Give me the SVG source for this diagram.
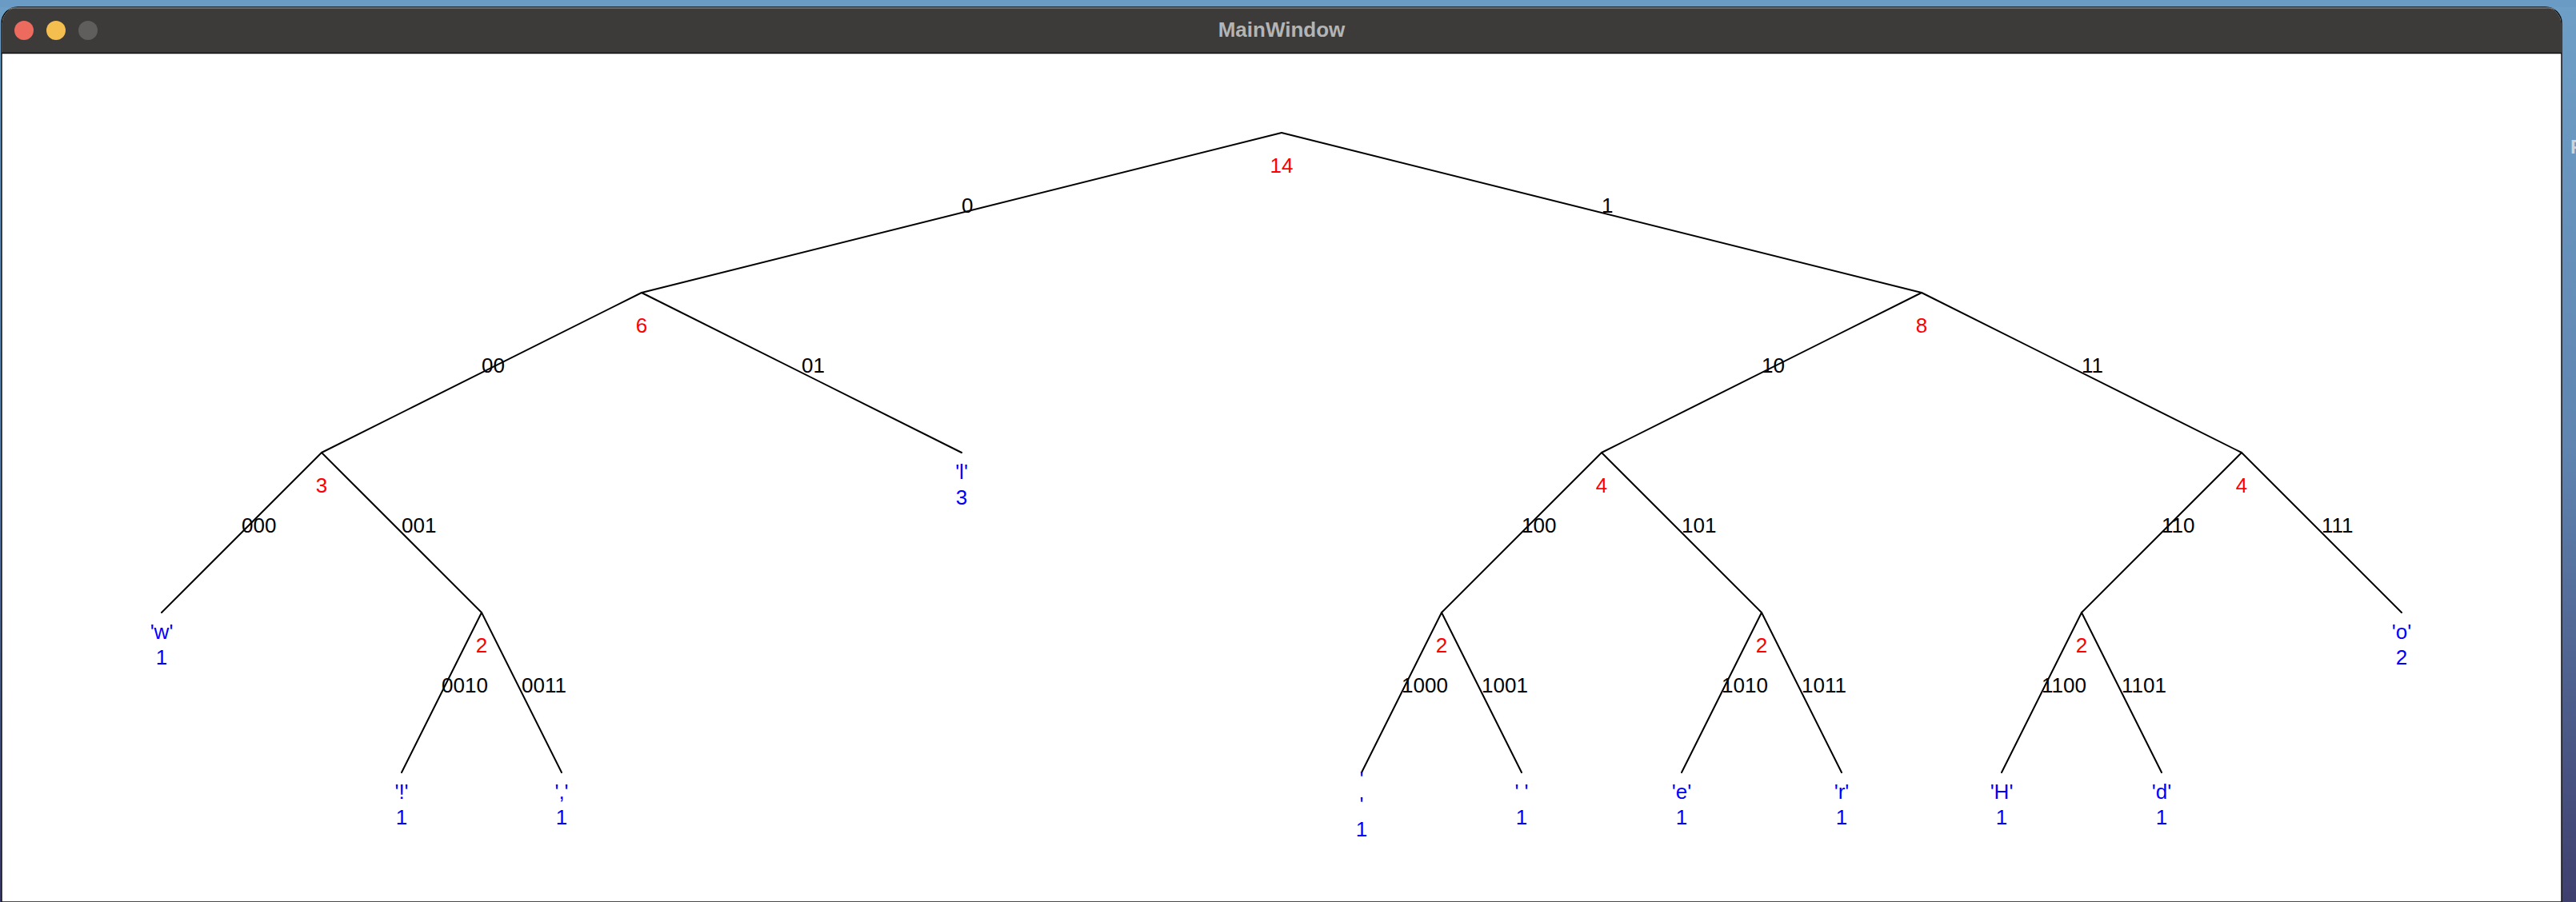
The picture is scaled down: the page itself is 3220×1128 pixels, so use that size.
<svg xmlns="http://www.w3.org/2000/svg" width="3220" height="1128" viewBox="0 0 3220 1128">
<defs>
<linearGradient id="desk" x1="0" y1="0" x2="0" y2="1">
<stop offset="0" stop-color="#6e9fc7"/>
<stop offset="0.5" stop-color="#5f84b0"/>
<stop offset="1" stop-color="#3f3f6e"/>
</linearGradient>
<style>
text{font-family:"Liberation Sans",Arial,Helvetica,sans-serif;font-size:26px}
.w{fill:#ff0000;text-anchor:middle}
.lf{fill:#0000ff;text-anchor:middle}
.e{fill:#000000;text-anchor:start}
.c line{stroke:#000;stroke-width:2;stroke-linecap:round}
</style>
</defs>
<rect x="0" y="0" width="3220" height="1128" fill="url(#desk)"/>
<rect x="0" y="0" width="3220" height="9" fill="#6a9bc4"/>
<text x="3213" y="192" style="font-size:24px;font-weight:bold;fill:#d2d2d2">F</text>
<path d="M2 1128 V29 A20 20 0 0 1 22 9 H3182 A20 20 0 0 1 3202 29 V1128 Z" fill="#ffffff" stroke="#111" stroke-width="1.5"/>
<path d="M2.75 66 V29 A19.25 19.25 0 0 1 22 9.75 H3182 A19.25 19.25 0 0 1 3201.25 29 V66 Z" fill="#3c3b3a"/>
<path d="M10 12 A18 18 0 0 1 22 10.2 H3182 A18 18 0 0 1 3194 12" fill="none" stroke="#7b7b7b" stroke-width="1.2"/>
<line x1="2" y1="66.5" x2="3202" y2="66.5" stroke="#111" stroke-width="1.5"/>
<circle cx="30" cy="38" r="12" fill="#ed6a5e"/>
<circle cx="70" cy="38" r="12" fill="#f5bf4f"/>
<circle cx="110" cy="38" r="12" fill="#5f5e5d"/>
<text x="1602" y="46" style="font-weight:bold;fill:#b4b4b4;text-anchor:middle">MainWindow</text>

<g id="connectors" class="c">
<line x1="1602" y1="166" x2="802" y2="366"/>
<line x1="1602" y1="166" x2="2402" y2="366"/>
<line x1="802" y1="366" x2="402" y2="566"/>
<line x1="802" y1="366" x2="1202" y2="566"/>
<line x1="2402" y1="366" x2="2002" y2="566"/>
<line x1="2402" y1="366" x2="2802" y2="566"/>
<line x1="402" y1="566" x2="202" y2="766"/>
<line x1="402" y1="566" x2="602" y2="766"/>
<line x1="2002" y1="566" x2="1802" y2="766"/>
<line x1="2002" y1="566" x2="2202" y2="766"/>
<line x1="2802" y1="566" x2="2602" y2="766"/>
<line x1="2802" y1="566" x2="3002" y2="766"/>
<line x1="602" y1="766" x2="502" y2="966"/>
<line x1="602" y1="766" x2="702" y2="966"/>
<line x1="1802" y1="766" x2="1702" y2="966"/>
<line x1="1802" y1="766" x2="1902" y2="966"/>
<line x1="2202" y1="766" x2="2102" y2="966"/>
<line x1="2202" y1="766" x2="2302" y2="966"/>
<line x1="2602" y1="766" x2="2502" y2="966"/>
<line x1="2602" y1="766" x2="2702" y2="966"/>
<text class="e" x="1202" y="266">0</text>
<text class="e" x="2002" y="266">1</text>
<text class="e" x="602" y="466">00</text>
<text class="e" x="1002" y="466">01</text>
<text class="e" x="2202" y="466">10</text>
<text class="e" x="2602" y="466">11</text>
<text class="e" x="302" y="666">000</text>
<text class="e" x="502" y="666">001</text>
<text class="e" x="1902" y="666">100</text>
<text class="e" x="2102" y="666">101</text>
<text class="e" x="2702" y="666">110</text>
<text class="e" x="2902" y="666">111</text>
<text class="e" x="552" y="866">0010</text>
<text class="e" x="652" y="866">0011</text>
<text class="e" x="1752" y="866">1000</text>
<text class="e" x="1852" y="866">1001</text>
<text class="e" x="2152" y="866">1010</text>
<text class="e" x="2252" y="866">1011</text>
<text class="e" x="2552" y="866">1100</text>
<text class="e" x="2652" y="866">1101</text>
</g>

<g id="n_root"><text class="w" x="1602" y="216">14</text></g>
<g id="n_0"><text class="w" x="802" y="416">6</text></g>
<g id="n_1"><text class="w" x="2402" y="416">8</text></g>
<g id="n_00"><text class="w" x="402" y="616">3</text></g>
<g id="n_01"><text class="lf" x="1202" y="599">'l'</text><text class="lf" x="1202" y="631">3</text></g>
<g id="n_10"><text class="w" x="2002" y="616">4</text></g>
<g id="n_11"><text class="w" x="2802" y="616">4</text></g>
<g id="n_000"><text class="lf" x="202" y="799">'w'</text><text class="lf" x="202" y="831">1</text></g>
<g id="n_001"><text class="w" x="602" y="816">2</text></g>
<g id="n_100"><text class="w" x="1802" y="816">2</text></g>
<g id="n_101"><text class="w" x="2202" y="816">2</text></g>
<g id="n_110"><text class="w" x="2602" y="816">2</text></g>
<g id="n_111"><text class="lf" x="3002" y="799">'o'</text><text class="lf" x="3002" y="831">2</text></g>
<g id="n_0010"><text class="lf" x="502" y="999">'!'</text><text class="lf" x="502" y="1031">1</text></g>
<g id="n_0011"><text class="lf" x="702" y="999">','</text><text class="lf" x="702" y="1031">1</text></g>
<g id="n_1000"><text class="lf" x="1702" y="983">'</text><text class="lf" x="1702" y="1015">'</text><text class="lf" x="1702" y="1046">1</text></g>
<g id="n_1001"><text class="lf" x="1902" y="999" xml:space="preserve">' '</text><text class="lf" x="1902" y="1031">1</text></g>
<g id="n_1010"><text class="lf" x="2102" y="999">'e'</text><text class="lf" x="2102" y="1031">1</text></g>
<g id="n_1011"><text class="lf" x="2302" y="999">'r'</text><text class="lf" x="2302" y="1031">1</text></g>
<g id="n_1100"><text class="lf" x="2502" y="999">'H'</text><text class="lf" x="2502" y="1031">1</text></g>
<g id="n_1101"><text class="lf" x="2702" y="999">'d'</text><text class="lf" x="2702" y="1031">1</text></g>
</svg>
